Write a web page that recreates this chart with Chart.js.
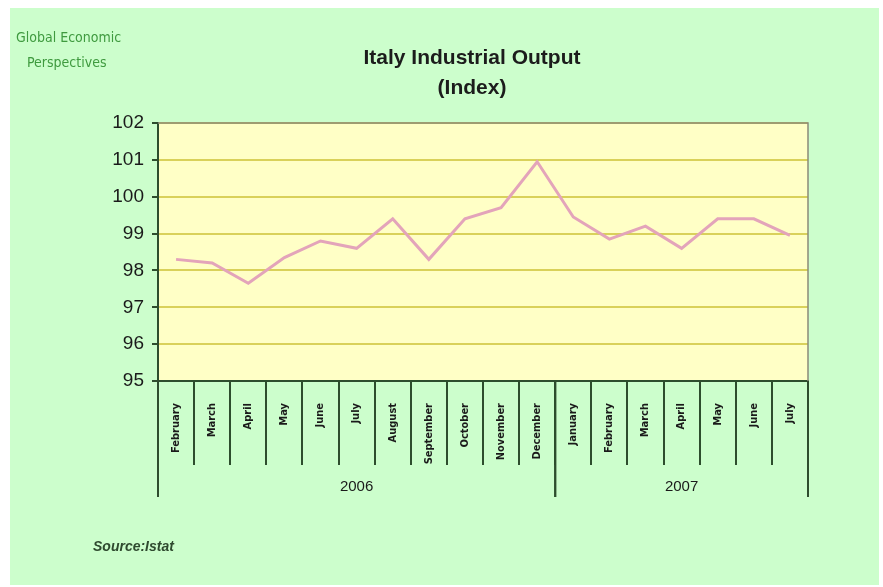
<!DOCTYPE html>
<html>
<head>
<meta charset="utf-8">
<title>Italy Industrial Output</title>
<script src="https://cdn.jsdelivr.net/npm/chart.js@4.4.0/dist/chart.umd.min.js"></script>
<style>
  html, body { margin: 0; padding: 0; background: #ffffff; }
  #grafico { display: block; }
</style>
</head>
<body>
<canvas id="grafico" width="883" height="587"></canvas>
<script>
// dados (indice de producao industrial, Italia)
const meses = ['February', 'March', 'April', 'May', 'June', 'July', 'August', 'September', 'October', 'November', 'December',
  'January', 'February', 'March', 'April', 'May', 'June', 'July'];
const anos = ['2006', '2006', '2006', '2006', '2006', '2006', '2006', '2006', '2006', '2006', '2006',
  '2007', '2007', '2007', '2007', '2007', '2007', '2007'];
const producao = [98.3, 98.2, 97.65, 98.35, 98.8, 98.6, 99.4, 98.3, 99.4, 99.7, 100.95,
  99.45, 98.85, 99.2, 98.6, 99.4, 99.4, 98.95];
const eixoY = { min: 95, max: 102, passo: 1 };

const corEixo = '#2d4d2d';
const fonteSans = '"Liberation Sans", Arial, sans-serif';
const fonteNarrow = '"Liberation Sans Narrow", "DejaVu Sans Condensed", "Liberation Sans", sans-serif';

const pluginFundo = {
  id: 'fundo',
  beforeDraw(chart) {
    const ctx = chart.ctx;
    const a = chart.chartArea;
    ctx.save();
    ctx.fillStyle = '#ffffff';
    ctx.fillRect(0, 0, chart.width, chart.height);
    ctx.fillStyle = '#ccfecc';
    ctx.fillRect(10, 8, 869, 577);
    ctx.fillStyle = '#ffffc6';
    ctx.fillRect(a.left, a.top, a.right - a.left, a.bottom - a.top);
    ctx.restore();
  },
  afterDraw(chart) {
    const ctx = chart.ctx;
    const a = chart.chartArea;
    const x = chart.scales.x;
    ctx.save();

    // moldura cinza em cima e a direita
    ctx.strokeStyle = '#8a8a7a';
    ctx.lineWidth = 1.5;
    ctx.beginPath();
    ctx.moveTo(a.left, a.top);
    ctx.lineTo(a.right, a.top);
    ctx.lineTo(a.right, a.bottom);
    ctx.stroke();

    // grupos de anos
    const grupos = [];
    anos.forEach(function(ano, i) {
      const ultimo = grupos[grupos.length - 1];
      if (ultimo && ultimo.ano === ano) {
        ultimo.fim = i;
      } else {
        grupos.push({ ano: ano, inicio: i, fim: i });
      }
    });
    const metade = (x.getPixelForValue(1) - x.getPixelForValue(0)) / 2;
    ctx.strokeStyle = corEixo;
    ctx.lineWidth = 2;
    ctx.fillStyle = '#1a1a1a';
    ctx.font = '15px ' + fonteSans;
    ctx.textAlign = 'center';
    ctx.textBaseline = 'middle';
    grupos.forEach(function(g) {
      const x0 = x.getPixelForValue(g.inicio) - metade;
      const x1 = x.getPixelForValue(g.fim) + metade;
      [x0, x1].forEach(function(px) {
        ctx.beginPath();
        ctx.moveTo(px, a.bottom);
        ctx.lineTo(px, 497);
        ctx.stroke();
      });
      ctx.fillText(g.ano, (x0 + x1) / 2, 487);
    });

    // titulo
    ctx.fillStyle = '#1c1c1c';
    ctx.font = 'bold 21px ' + fonteSans;
    ctx.fillText('Italy Industrial Output', 472, 58);
    ctx.fillText('(Index)', 472, 88);

    // logo
    ctx.textAlign = 'left';
    ctx.fillStyle = '#3f9a3f';
    ctx.font = '14px ' + fonteNarrow;
    ctx.fillText('Global Economic', 16, 38);
    ctx.fillText('Perspectives', 27, 63);

    // fonte
    ctx.fillStyle = '#2f4a2f';
    ctx.font = 'italic bold 14px ' + fonteSans;
    ctx.fillText('Source:Istat', 93, 547);
    ctx.restore();
  }
};

document.addEventListener('DOMContentLoaded', function() {
  const ctx = document.getElementById('grafico').getContext('2d');
  new Chart(ctx, {
    type: 'line',
    data: {
      labels: meses,
      datasets: [{
        label: 'Italy Industrial Output',
        data: producao,
        borderColor: '#e3a4ba',
        borderWidth: 3,
        pointRadius: 0,
        tension: 0,
        fill: false
      }]
    },
    options: {
      responsive: false,
      animation: false,
      layout: {
        padding: { top: 123, right: 75, bottom: 0, left: 0 }
      },
      plugins: {
        legend: { display: false },
        tooltip: { enabled: false },
        title: { display: false }
      },
      scales: {
        x: {
          offset: true,
          grid: {
            display: true,
            offset: true,
            drawOnChartArea: false,
            drawTicks: true,
            tickLength: 84,
            color: corEixo,
            lineWidth: 2
          },
          border: { display: true, color: corEixo, width: 2 },
          ticks: {
            autoSkip: false,
            minRotation: 90,
            maxRotation: 90,
            padding: -62,
            color: '#1a1a1a',
            font: { family: fonteNarrow, size: 11, weight: 'bold' }
          },
          afterFit: function(scale) {
            scale.height = 587 - 381;
          }
        },
        y: {
          min: eixoY.min,
          max: eixoY.max,
          ticks: {
            stepSize: eixoY.passo,
            padding: 8,
            color: '#1a1a1a',
            font: { family: fonteSans, size: 19 }
          },
          grid: {
            color: '#d9d15a',
            lineWidth: 2,
            tickColor: corEixo,
            tickLength: 6,
            tickWidth: 2
          },
          border: { color: corEixo, width: 2 },
          afterFit: function(scale) {
            scale.width = 158;
          }
        }
      }
    },
    plugins: [pluginFundo]
  });
});
</script>
</body>
</html>
